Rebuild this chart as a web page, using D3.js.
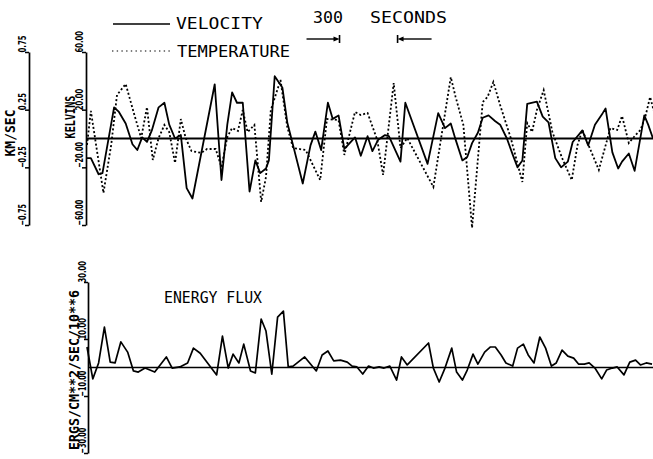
<!DOCTYPE html>
<html>
<head>
<meta charset="utf-8">
<script src="https://cdn.jsdelivr.net/npm/d3@7"></script>
<style>
  html, body { margin: 0; padding: 0; background: #fff; }
  svg { display: block; }
  .lbl { font-family: "DejaVu Sans Mono", monospace; fill: #000; }
</style>
</head>
<body>
<svg id="chart" width="653" height="459"></svg>
<script>
// time in seconds
const velTime = [0,20,60,80,140,165,200,235,260,285,310,335,370,400,425,455,485,515,545,660,695,725,750,775,805,840,870,895,925,940,970,1010,1035,1115,1155,1180,1210,1245,1270,1300,1330,1385,1415,1450,1475,1505,1540,1560,1620,1645,1760,1815,1850,1880,1905,1940,1965,1990,2020,2045,2075,2110,2135,2170,2200,2225,2250,2275,2325,2355,2385,2420,2450,2485,2510,2560,2590,2625,2665,2680,2715,2745,2765,2800,2830,2880,2900,2925];
const velValues = [-0.17,-0.17,-0.31,-0.30,0.27,0.23,0.13,-0.05,-0.10,0.01,-0.03,0.07,0.27,0.31,0.12,0.00,0.03,-0.43,-0.52,0.47,-0.36,0.12,0.40,0.31,0.31,-0.46,-0.19,-0.30,-0.26,-0.19,0.54,0.44,0.14,-0.39,-0.06,0.06,-0.10,0.31,0.17,0.20,-0.09,0.01,-0.15,0.02,-0.11,-0.01,0.03,0.02,-0.20,0.31,-0.22,0.22,0.09,0.13,-0.01,-0.19,-0.16,-0.04,0.05,0.18,0.20,0.15,0.12,0.00,-0.14,-0.25,-0.19,0.30,0.32,0.19,0.14,-0.17,-0.25,-0.20,-0.03,0.07,-0.06,0.12,0.22,0.26,-0.12,-0.26,-0.20,-0.13,-0.28,0.20,0.12,0.00];

const tempTime = [0,20,85,125,155,200,245,280,310,340,370,400,425,455,485,510,540,590,620,665,695,725,750,780,805,830,865,900,925,950,1000,1035,1065,1130,1205,1240,1300,1330,1385,1415,1450,1500,1530,1585,1620,1655,1790,1880,1905,1945,1990,2045,2070,2100,2135,2190,2250,2275,2300,2325,2360,2405,2455,2505,2535,2560,2585,2645,2705,2740,2765,2800,2835,2860,2885,2910,2935];
const tempValues = [-4.5,19.1,-37.8,-4.5,30.2,37.8,16.3,0.3,21.8,-14.9,0.3,9.4,4.5,-17,13.5,0.3,-8.7,-10,-7.3,-7.3,-19.8,1,7.3,5.2,19.8,4.5,9.4,-44,-26.7,19.8,40.6,8,-6.6,-8,-28.8,13.5,12.8,-11.4,18.4,16.3,17.7,-1,-25.3,38.5,-6.6,0.3,-33.6,42.6,28.8,9.4,-62,25.3,28.8,39.2,23.2,0.3,-30.2,10.7,4.5,19.8,33.6,4.5,-13.5,-28.8,-4.5,5.9,-2.4,-21.8,7.3,5.9,15.6,-3.1,2.4,5.9,14.9,28.8,16.3];

const fluxTime = [0,30,60,90,120,145,175,210,240,265,300,350,410,440,480,520,550,585,670,700,730,755,785,810,845,870,900,925,955,985,1015,1040,1065,1125,1185,1215,1245,1275,1310,1345,1370,1395,1425,1455,1480,1510,1535,1565,1600,1625,1655,1765,1790,1820,1850,1885,1910,1940,1965,1995,2020,2055,2085,2110,2140,2165,2200,2225,2255,2280,2310,2340,2370,2400,2425,2455,2485,2515,2540,2570,2595,2625,2660,2685,2715,2740,2775,2805,2835,2860,2890,2920];
const fluxValues = [7.2,-4,1.6,14.2,1.9,1.6,9,5.4,-1.2,-1.6,-0.2,-1.6,3.7,-0.2,0.2,1.6,6.8,5,-2.6,11,-0.2,4.7,1.6,8.2,-1.2,-1.9,17,12.8,-2.3,17.7,19.8,0.2,0.5,3.7,-1.2,4.4,5.8,2.3,2.6,1.9,0.5,0.2,-2.3,0.5,-0.2,0.2,-0.2,0.5,-4.4,3.7,0.9,8.6,-0.2,-5.1,-0.2,6.8,-1.6,-4.4,-0.9,4.7,1.2,5.4,7.2,7.2,4.4,1.6,0.5,6.8,8.2,4.4,1.6,10.7,6.8,0.5,1.6,6.1,4,3.3,1.2,1.2,1.6,-0.2,-4,-0.9,-0.2,0.2,-2.6,1.9,2.6,0.9,1.6,1.2];

const velTicks = [-0.75, -0.25, 0.25, 0.75];
const tempTicks = [-60, -20, 20, 60];
const fluxTicks = [-30, -10, 10, 30];

// 300 second bracket
const markStart = 1305, markEnd = 1605;

const svg = d3.select("#chart");

const x = d3.scaleLinear().domain([0, 2925]).range([87, 653]);
const yVel = d3.scaleLinear().domain([-0.75, 0.75]).range([225, 52]);
const yTemp = d3.scaleLinear().domain([-60, 60]).range([225, 52]);
const yFlux = d3.scaleLinear().domain([-30, 30]).range([453, 282]);

function leftAxis(scale, ticks, fmt, xPos, gap) {
    const g = svg.append("g")
        .attr("transform", `translate(${xPos},0)`)
        .call(d3.axisLeft(scale).tickValues(ticks).tickFormat(fmt).tickSize(4).tickSizeOuter(0));
    g.attr("font-family", "'DejaVu Sans', sans-serif")
     .attr("font-size", 11)
     .attr("font-weight", "bold");
    g.select(".domain").attr("stroke-width", 1.7);
    g.selectAll(".tick line").attr("stroke-width", 1.5);
    g.selectAll(".tick text")
        .attr("transform", "rotate(-90)")
        .attr("x", 0)
        .attr("y", -gap)
        .attr("dy", 0)
        .attr("text-anchor", "start")
        .attr("textLength", d => String(fmt(d)).length * 4.3)
        .attr("lengthAdjust", "spacingAndGlyphs");
    return g;
}

leftAxis(yVel, velTicks, d3.format(".2f"), 29, 3.5);
leftAxis(yTemp, tempTicks, d3.format(".2f"), 86, 3);
leftAxis(yFlux, fluxTicks, d3.format(".2f"), 88, 2);

function vTitle(txt, cx, cy, len) {
    svg.append("text")
        .attr("class", "lbl")
        .attr("transform", `translate(${cx},${cy}) rotate(-90)`)
        .attr("text-anchor", "middle")
        .attr("font-size", 13.5)
        .attr("font-weight", "bold")
        .attr("textLength", len)
        .attr("lengthAdjust", "spacingAndGlyphs")
        .text(txt);
}
vTitle("KM/SEC", 15, 133, 47);
vTitle("KELVINS", 75, 117, 43);
vTitle("ERGS/CM**2/SEC/10**6", 79, 370, 160);

// zero lines
svg.append("line")
    .attr("x1", 86).attr("x2", 653)
    .attr("y1", yTemp(0)).attr("y2", yTemp(0))
    .attr("stroke", "#000").attr("stroke-width", 1.8);
svg.append("line")
    .attr("x1", 88).attr("x2", 653)
    .attr("y1", yFlux(0)).attr("y2", yFlux(0))
    .attr("stroke", "#000").attr("stroke-width", 1.6);

const velLine = d3.line().x(d => x(d[0])).y(d => yVel(d[1]));
const tempLine = d3.line().x(d => x(d[0])).y(d => yTemp(d[1]));
const fluxLine = d3.line().x(d => x(d[0])).y(d => yFlux(d[1]));

svg.append("path")
    .datum(d3.zip(tempTime, tempValues))
    .attr("d", tempLine)
    .attr("fill", "none").attr("stroke", "#000")
    .attr("stroke-width", 1.8).attr("stroke-dasharray", "2,2.2");

svg.append("path")
    .datum(d3.zip(velTime, velValues))
    .attr("d", velLine)
    .attr("fill", "none").attr("stroke", "#000")
    .attr("stroke-width", 1.8).attr("stroke-linejoin", "round");

svg.append("path")
    .datum(d3.zip(fluxTime, fluxValues))
    .attr("d", fluxLine)
    .attr("fill", "none").attr("stroke", "#000")
    .attr("stroke-width", 1.7).attr("stroke-linejoin", "round");

// legend
svg.append("line").attr("x1", 113).attr("x2", 170).attr("y1", 24).attr("y2", 24)
    .attr("stroke", "#000").attr("stroke-width", 1.4);
svg.append("line").attr("x1", 112).attr("x2", 171).attr("y1", 51).attr("y2", 51)
    .attr("stroke", "#000").attr("stroke-width", 1.2).attr("stroke-dasharray", "1.4,3.3");

function label(txt, x0, base, len) {
    svg.append("text")
        .attr("class", "lbl")
        .attr("x", x0).attr("y", base)
        .attr("font-size", 15)
        .attr("textLength", len)
        .attr("lengthAdjust", "spacingAndGlyphs")
        .text(txt);
}
label("VELOCITY", 176, 29, 87);
label("TEMPERATURE", 177, 57, 113);
label("300", 313, 23, 30);
label("SECONDS", 370, 23, 77);
label("ENERGY FLUX", 164, 303, 98);

// 300 s bracket arrows
const ay = 39;
const xa = x(markStart), xb = x(markEnd);
svg.append("line").attr("x1", xa - 33).attr("x2", xa - 4).attr("y1", ay).attr("y2", ay)
    .attr("stroke", "#000").attr("stroke-width", 1.4);
svg.append("path").attr("d", `M${xa},${ay} L${xa - 6},${ay - 2.5} L${xa - 6},${ay + 2.5} Z`).attr("fill", "#000");
svg.append("line").attr("x1", xa).attr("x2", xa).attr("y1", ay - 4).attr("y2", ay + 4)
    .attr("stroke", "#000").attr("stroke-width", 1.6);

svg.append("line").attr("x1", xb + 4).attr("x2", xb + 34).attr("y1", ay).attr("y2", ay)
    .attr("stroke", "#000").attr("stroke-width", 1.4);
svg.append("path").attr("d", `M${xb},${ay} L${xb + 6},${ay - 2.5} L${xb + 6},${ay + 2.5} Z`).attr("fill", "#000");
svg.append("line").attr("x1", xb).attr("x2", xb).attr("y1", ay - 4).attr("y2", ay + 4)
    .attr("stroke", "#000").attr("stroke-width", 1.6);
</script>
</body>
</html>
